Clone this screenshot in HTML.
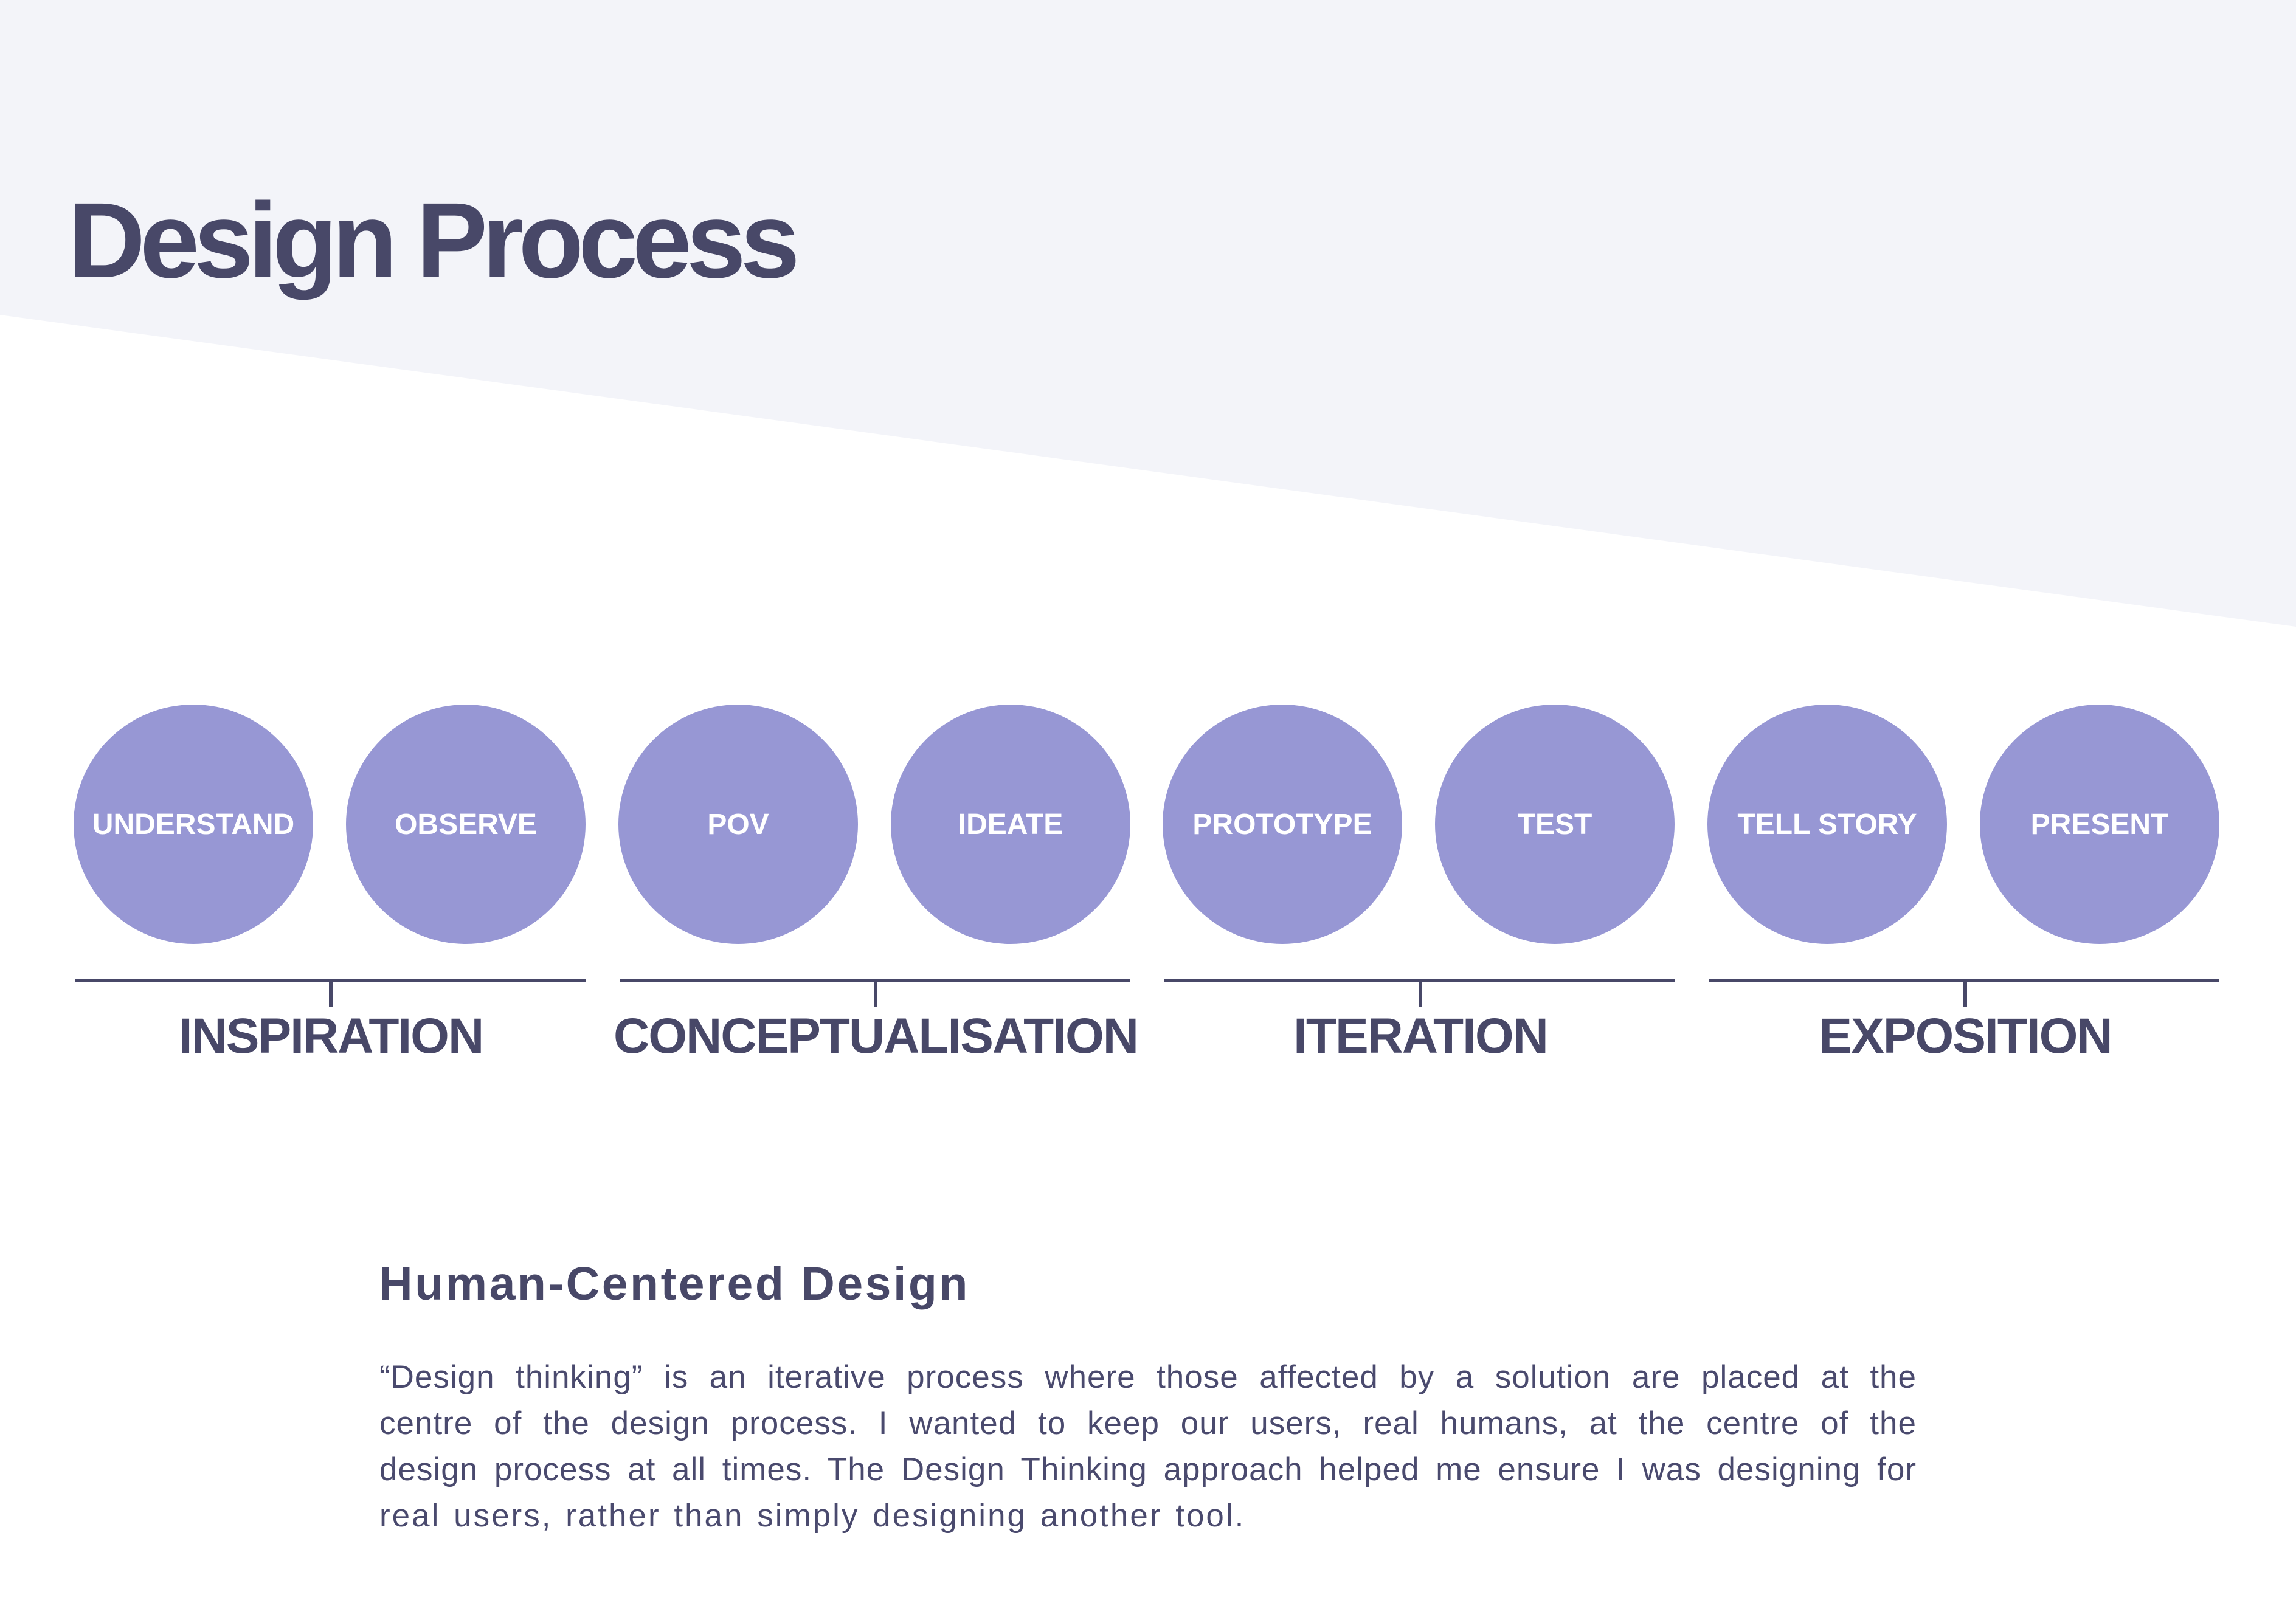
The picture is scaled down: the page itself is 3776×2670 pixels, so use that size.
<!DOCTYPE html>
<html><head><meta charset="utf-8"><style>
html,body{margin:0;padding:0;}
body{width:3776px;height:2670px;position:relative;overflow:hidden;background:#fff;font-family:"Liberation Sans",sans-serif;}
.t{position:absolute;white-space:nowrap;}
.c{position:absolute;width:394px;height:394px;border-radius:50%;background:#9797d4;top:1159px;color:#fff;font-weight:bold;font-size:48px;display:flex;align-items:center;justify-content:center;letter-spacing:0px;}
.l{position:absolute;height:6px;background:#484868;top:1610px;}
.k{position:absolute;width:6px;height:44px;background:#484868;top:1613px;}
.lab{position:absolute;top:1664px;width:900px;text-align:center;font-size:82px;font-weight:bold;color:#484868;line-height:1;letter-spacing:-2px;}
.p{position:absolute;left:624px;width:2528px;font-size:53px;line-height:76px;color:#4a4a6e;white-space:nowrap;text-align:justify;text-align-last:justify;letter-spacing:1px;}
</style></head><body>
<svg style="position:absolute;left:0;top:0" width="3776" height="2670"><polygon points="0,0 3776,0 3776,1031 0,518" fill="#f3f4f9"/></svg>
<div class="t" style="left:112px;top:308px;font-size:176px;font-weight:bold;color:#484868;line-height:1;letter-spacing:-9px;">Design Process</div>

<div class="c" style="left:121px">UNDERSTAND</div>
<div class="c" style="left:569px">OBSERVE</div>
<div class="c" style="left:1017px">POV</div>
<div class="c" style="left:1465px">IDEATE</div>
<div class="c" style="left:1912px">PROTOTYPE</div>
<div class="c" style="left:2360px">TEST</div>
<div class="c" style="left:2808px">TELL STORY</div>
<div class="c" style="left:3256px">PRESENT</div>

<div class="l" style="left:123px;width:840px"></div>
<div class="l" style="left:1019px;width:840px"></div>
<div class="l" style="left:1914px;width:841px"></div>
<div class="l" style="left:2810px;width:840px"></div>
<div class="k" style="left:541px"></div>
<div class="k" style="left:1437px"></div>
<div class="k" style="left:2333px"></div>
<div class="k" style="left:3229px"></div>
<div class="lab" style="left:94px">INSPIRATION</div>
<div class="lab" style="left:990px">CONCEPTUALISATION</div>
<div class="lab" style="left:1886px">ITERATION</div>
<div class="lab" style="left:2782px">EXPOSITION</div>

<div class="t" style="left:623px;top:2074px;font-size:77px;font-weight:bold;color:#484868;line-height:1;letter-spacing:3.5px;">Human-Centered Design</div>
<div class="p" style="top:2228px">“Design thinking” is an iterative process where those affected by a solution are placed at the</div>
<div class="p" style="top:2304px">centre of the design process. I wanted to keep our users, real humans, at the centre of the</div>
<div class="p" style="top:2380px">design process at all times. The Design Thinking approach helped me ensure I was designing for</div>
<div class="p" style="top:2456px;text-align-last:left;letter-spacing:3px;word-spacing:4px;">real users, rather than simply designing another tool.</div>
</body></html>
